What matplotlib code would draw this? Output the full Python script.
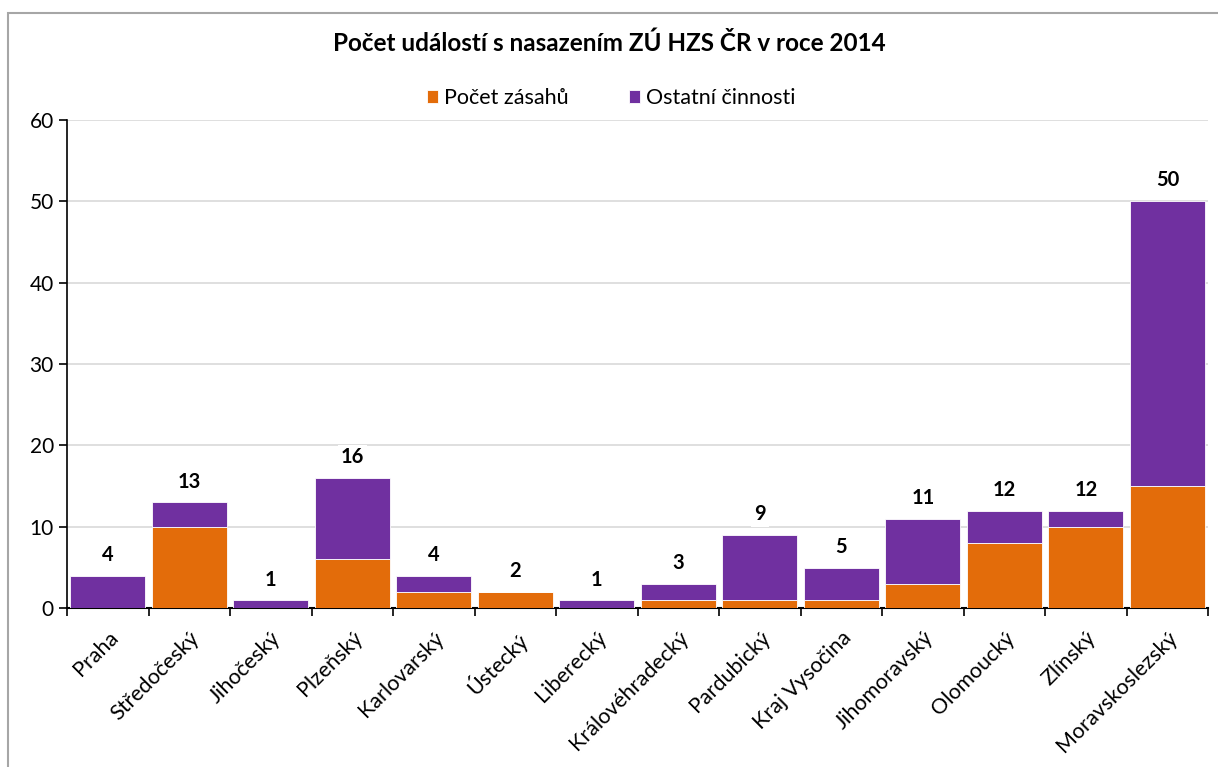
import matplotlib.pyplot as plt
import numpy as np
from matplotlib.patches import Rectangle

plt.rcParams['font.family'] = ['Lato', 'DejaVu Sans']

kraje = ['Praha', 'Středočeský', 'Jihočeský', 'Plzeňský', 'Karlovarský', 'Ústecký',
         'Liberecký', 'Královéhradecký', 'Pardubický', 'Kraj Vysočina', 'Jihomoravský',
         'Olomoucký', 'Zlínský', 'Moravskoslezský']
zasahy = [0, 10, 0, 6, 2, 2, 0, 1, 1, 1, 3, 8, 10, 15]
ostatni = [4, 3, 1, 10, 2, 0, 1, 2, 8, 4, 8, 4, 2, 35]

oranzova = '#E36C0A'
fialova = '#7030A0'

x = np.arange(len(kraje))
celkem = np.array(zasahy) + np.array(ostatni)

fig = plt.figure(figsize=(12.18, 7.67), dpi=100)
ax = fig.add_axes([0.055, 0.207, 0.937, 0.637])

# ramecek grafu
fig.patches.append(Rectangle((0.0066, -0.05), 1.1, 1.033, transform=fig.transFigure,
                             fill=False, edgecolor='#a6a6a6', linewidth=1.5))

ax.bar(x, zasahy, width=0.92, color=oranzova, edgecolor='white', linewidth=0.6,
       label='Počet zásahů', zorder=3)
ax.bar(x, ostatni, width=0.92, bottom=zasahy, color=fialova, edgecolor='white',
       linewidth=0.6, label='Ostatní činnosti', zorder=3)

for xi, v in zip(x, celkem):
    ax.text(xi, v + 1.3, str(v), ha='center', va='bottom', fontsize=14.5,
            fontweight='bold', zorder=4,
            bbox=dict(facecolor='white', edgecolor='none', pad=2))

ax.set_xlim(-0.5, len(kraje) - 0.5)
ax.set_ylim(0, 60)
ax.set_yticks(range(0, 61, 10))
ax.yaxis.grid(True, color='#d9d9d9', linewidth=1.2, zorder=0)
ax.set_axisbelow(True)

ax.set_xticks(x)
ax.set_xticklabels(kraje, rotation=45, ha='right', rotation_mode='anchor', fontsize=15.5)
ax.tick_params(axis='x', length=0, pad=14)
ax.set_xticks(np.arange(-0.5, len(kraje)), minor=True)
ax.tick_params(axis='x', which='minor', length=6, width=1.2, color='black')
ax.tick_params(axis='y', labelsize=15, length=6, width=1.2)

for s in ['top', 'right']:
    ax.spines[s].set_visible(False)
ax.spines['left'].set_linewidth(1.2)
ax.spines['bottom'].set_linewidth(1.5)

fig.text(0.5, 0.944, 'Počet událostí s nasazením ZÚ HZS ČR v roce 2014', ha='center',
         va='center', fontsize=17.5, fontweight='bold')
fig.legend(loc='center', bbox_to_anchor=(0.502, 0.872), ncol=2, frameon=False,
           fontsize=15.5, handlelength=0.5, handleheight=0.5, handletextpad=0.3,
           columnspacing=2.8)

fig.savefig('out.png', dpi=100)
